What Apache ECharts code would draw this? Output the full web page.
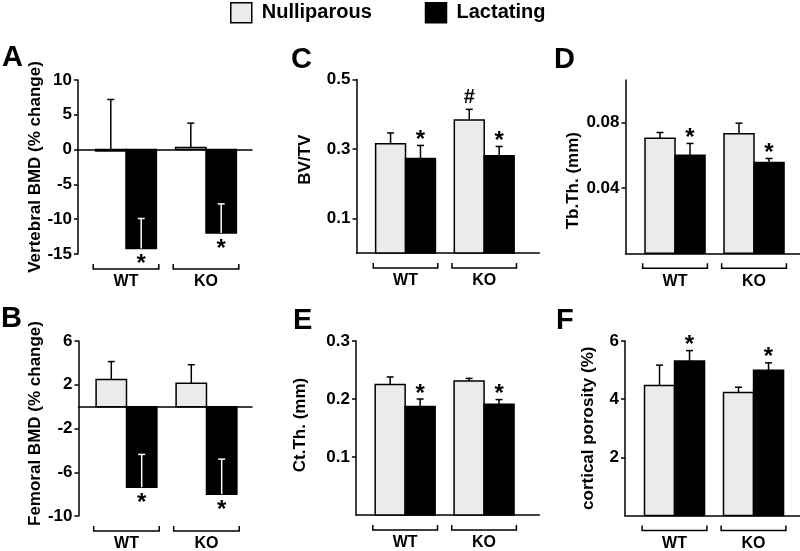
<!DOCTYPE html>
<html><head><meta charset="utf-8">
<script src="https://cdn.jsdelivr.net/npm/echarts@6/dist/echarts.min.js"></script>
<style>html,body{margin:0;padding:0;background:#fff}#c{width:800px;height:551px}</style>
</head><body><div id="c"></div>
<script>
// ---------- DATA ----------
const categories = ['WT', 'KO'];
const groupNames = ['Nulliparous', 'Lactating'];

// A: Vertebral BMD (% change)
const vertNull = [-0.2, 0.3];
const vertNullErr = [7.4, 3.5];
const vertLact = [-14.2, -12.0];
const vertLactErr = [4.3, 4.2];
const vertTicks = [10, 5, 0, -5, -10, -15];

// B: Femoral BMD (% change)
const femNull = [2.47, 2.13];
const femNullErr = [1.65, 1.7];
const femLact = [-7.37, -8.0];
const femLactErr = [3.0, 3.2];
const femTicks = [6, 2, -2, -6, -10];

// C: BV/TV
const bvNull = [0.315, 0.383];
const bvNullErr = [0.031, 0.031];
const bvLact = [0.272, 0.280];
const bvLactErr = [0.038, 0.027];
const bvTicks = [0.1, 0.3, 0.5];

// D: Tb.Th. (mm)
const tbNull = [0.0703, 0.0731];
const tbNullErr = [0.0036, 0.0065];
const tbLact = [0.0599, 0.0556];
const tbLactErr = [0.0073, 0.0024];
const tbTicks = [0.04, 0.08];

// E: Ct.Th. (mm)
const ctNull = [0.225, 0.231];
const ctNullErr = [0.013, 0.0045];
const ctLact = [0.187, 0.191];
const ctLactErr = [0.013, 0.008];
const ctTicks = [0.1, 0.2, 0.3];

// F: cortical porosity (%)
const porNull = [4.47, 4.23];
const porNullErr = [0.70, 0.18];
const porLact = [5.31, 4.99];
const porLactErr = [0.36, 0.26];
const porTicks = [2, 4, 6];

// significance marks
const noMarks = ['', ''];
const starMarks = ['*', '*'];
const bvNullMarks = ['', '#'];

// ---------- LAYOUT / STYLE ----------
const FONT = '"Liberation Sans", Arial, Helvetica, sans-serif';
const NULL_COLOR = '#ebebeb';
const BW = 0.38;   // bar width in category units
const BRK = 0.41;  // bracket half width

const panels = [
  {letter:'A', title:'Vertebral BMD (% change)', nul:vertNull, nulErr:vertNullErr, lact:vertLact, lactErr:vertLactErr,
   nulMarks:noMarks, lactMarks:starMarks, ticks:vertTicks, yMin:-15, yMax:10,
   grid:{left:78, top:80, width:174, height:174}, xMin:-0.6, xMax:1.575, nameGap:31, namePad:[0,0,0,0], letterPos:[2,43]},
  {letter:'B', title:'Femoral BMD (% change)', nul:femNull, nulErr:femNullErr, lact:femLact, lactErr:femLactErr,
   nulMarks:noMarks, lactMarks:starMarks, ticks:femTicks, yMin:-10, yMax:6,
   grid:{left:78.5, top:341, width:173.5, height:175}, xMin:-0.6, xMax:1.569, nameGap:32, namePad:[0,0,0,10], letterPos:[1,304]},
  {letter:'C', title:'BV/TV', nul:bvNull, nulErr:bvNullErr, lact:bvLact, lactErr:bvLactErr,
   nulMarks:bvNullMarks, lactMarks:starMarks, ticks:bvTicks, yMin:0, yMax:0.5,
   grid:{left:356.5, top:79.5, width:182.8, height:173.5}, xMin:-0.623, xMax:1.700, nameGap:43, namePad:[0,0,0,13], letterPos:[291,45]},
  {letter:'D', title:'Tb.Th. (mm)', nul:tbNull, nulErr:tbNullErr, lact:tbLact, lactErr:tbLactErr,
   nulMarks:noMarks, lactMarks:starMarks, ticks:tbTicks, yMin:0, yMax:0.106,
   grid:{left:625.5, top:80, width:174.5, height:173.3}, xMin:-0.627, xMax:1.582, nameGap:44, namePad:[0,28,0,0], letterPos:[554,45]},
  {letter:'E', title:'Ct.Th. (mm)', nul:ctNull, nulErr:ctNullErr, lact:ctLact, lactErr:ctLactErr,
   nulMarks:noMarks, lactMarks:starMarks, ticks:ctTicks, yMin:0, yMax:0.3,
   grid:{left:356, top:341, width:183.3, height:174}, xMin:-0.623, xMax:1.700, nameGap:47, namePad:[0,0,0,6], letterPos:[293,306]},
  {letter:'F', title:'cortical porosity (%)', nul:porNull, nulErr:porNullErr, lact:porLact, lactErr:porLactErr,
   nulMarks:noMarks, lactMarks:starMarks, ticks:porTicks, yMin:0, yMax:6,
   grid:{left:625, top:341, width:174.5, height:174.5}, xMin:-0.627, xMax:1.582, nameGap:28, namePad:[0,0,0,0], letterPos:[556,306]}
];

function barRender(side) {
  return function (params, api) {
    const x = api.value(0), v = api.value(1);
    const x0 = side === 0 ? x - BW : x;
    const x1 = side === 0 ? x : x + BW;
    const p0 = api.coord([x0, v]);
    const p1 = api.coord([x1, 0]);
    return {
      type: 'rect',
      shape: {x: Math.min(p0[0], p1[0]), y: Math.min(p0[1], p1[1]),
              width: Math.abs(p1[0] - p0[0]), height: Math.abs(p1[1] - p0[1])},
      style: {fill: side === 0 ? NULL_COLOR : '#000', stroke: '#000', lineWidth: 1.5}
    };
  };
}
function errRender(side) {
  return function (params, api) {
    const x = api.value(0), m = api.value(1), e = api.value(2);
    const xc = side === 0 ? x - BW / 2 : x + BW / 2;
    const p0 = api.coord([xc, m]);
    const p1 = api.coord([xc, m + e]);
    const col = (side === 1 && m < 0) ? '#fff' : '#000';
    return {
      type: 'group',
      children: [
        {type: 'line', shape: {x1: p0[0], y1: p0[1], x2: p1[0], y2: p1[1]}, style: {stroke: col, lineWidth: 1.5}},
        {type: 'line', shape: {x1: p1[0] - 3.5, y1: p1[1], x2: p1[0] + 3.5, y2: p1[1]}, style: {stroke: col, lineWidth: 1.5}}
      ]
    };
  };
}
function markRender(side, marks) {
  return function (params, api) {
    const j = params.dataIndex;
    const txt = marks[j];
    if (!txt) return null;
    const x = api.value(0), m = api.value(1), e = api.value(2);
    const xc = side === 0 ? x - BW / 2 : x + BW / 2;
    let y;
    if (m < 0) y = api.coord([xc, m])[1] + 16;
    else y = api.coord([xc, m + e])[1] - (txt === '#' ? 12 : 5);
    const px = api.coord([xc, 0])[0];
    return {type: 'text', x: px, y: y,
      style: {text: txt, fill: '#000', font: 'bold ' + (txt === '#' ? 20 : 24) + 'px ' + FONT,
              textAlign: 'center', textVerticalAlign: 'middle'}};
  };
}
function bracketRender(yMin) {
  return function (params, api) {
    const x = api.value(0);
    const pL = api.coord([x - BRK, yMin]);
    const pR = api.coord([x + BRK, yMin]);
    const yb = pL[1] + 15;
    return {
      type: 'group',
      children: [
        {type: 'polyline', shape: {points: [[pL[0], yb - 5], [pL[0], yb], [pR[0], yb], [pR[0], yb - 5]]},
         style: {stroke: '#000', lineWidth: 1.5, fill: null}},
        {type: 'text', x: (pL[0] + pR[0]) / 2, y: yb + 13,
         style: {text: categories[params.dataIndex], fill: '#000', font: 'bold 16px ' + FONT,
                 textAlign: 'center', textVerticalAlign: 'middle'}}
      ]
    };
  };
}

const grid = [], xAxis = [], yAxis = [], series = [], title = [];
panels.forEach((p, i) => {
  grid.push(Object.assign({containLabel: false}, p.grid));
  xAxis.push({type: 'value', gridIndex: i, min: p.xMin, max: p.xMax,
    axisLine: {show: true, onZero: true, lineStyle: {color: '#000', width: 1.5}},
    axisTick: {show: false}, axisLabel: {show: false}, splitLine: {show: false}});
  yAxis.push({type: 'value', gridIndex: i, min: p.yMin, max: p.yMax,
    name: p.title, nameLocation: 'middle', nameGap: p.nameGap, nameRotate: 90,
    nameTextStyle: {fontFamily: FONT, fontWeight: 'bold', fontSize: 17, color: '#000', padding: p.namePad},
    axisLine: {show: true, onZero: false, lineStyle: {color: '#000', width: 1.5}},
    axisTick: {show: true, inside: false, length: 4, customValues: p.ticks, lineStyle: {color: '#000', width: 1.5}},
    axisLabel: {show: true, customValues: p.ticks, margin: 6, fontFamily: FONT, fontWeight: 'bold', fontSize: 17, color: '#000',
      formatter: v => String(+v.toFixed(4))},
    splitLine: {show: false}});
  const mk = (arr, err) => categories.map((c, j) => [j, arr[j], err[j]]);
  series.push({type: 'custom', name: groupNames[0], xAxisIndex: i, yAxisIndex: i, renderItem: barRender(0), data: mk(p.nul, p.nulErr), z: 2});
  series.push({type: 'custom', name: groupNames[1], xAxisIndex: i, yAxisIndex: i, renderItem: barRender(1), data: mk(p.lact, p.lactErr), z: 2});
  series.push({type: 'custom', xAxisIndex: i, yAxisIndex: i, renderItem: errRender(0), data: mk(p.nul, p.nulErr), z: 3});
  series.push({type: 'custom', xAxisIndex: i, yAxisIndex: i, renderItem: errRender(1), data: mk(p.lact, p.lactErr), z: 3});
  series.push({type: 'custom', xAxisIndex: i, yAxisIndex: i, renderItem: markRender(0, p.nulMarks), data: mk(p.nul, p.nulErr), z: 4});
  series.push({type: 'custom', xAxisIndex: i, yAxisIndex: i, renderItem: markRender(1, p.lactMarks), data: mk(p.lact, p.lactErr), z: 4});
  series.push({type: 'custom', xAxisIndex: i, yAxisIndex: i, renderItem: bracketRender(p.yMin), data: categories.map((c, j) => [j, p.yMin]), z: 4});
  title.push({text: p.letter, left: p.letterPos[0], top: p.letterPos[1], padding: 0,
    textStyle: {fontFamily: FONT, fontWeight: 'bold', fontSize: 29, color: '#000'}});
});

const option = {
  animation: false,
  backgroundColor: '#fff',
  title: title,
  legend: {
    left: 230, top: 2, padding: 0, itemWidth: 21, itemHeight: 20, itemGap: 53, icon: 'rect',
    textStyle: {fontFamily: FONT, fontWeight: 'bold', fontSize: 20, color: '#000', padding: [0, 0, 0, 5]},
    data: [
      {name: groupNames[0], itemStyle: {color: NULL_COLOR, borderColor: '#000', borderWidth: 1.5}},
      {name: groupNames[1], itemStyle: {color: '#000', borderColor: '#000', borderWidth: 1.5}}
    ]
  },
  grid: grid, xAxis: xAxis, yAxis: yAxis, series: series
};
const chart = echarts.init(document.getElementById('c'), null, {renderer: 'canvas'});
chart.setOption(option);
</script>
</body></html>
